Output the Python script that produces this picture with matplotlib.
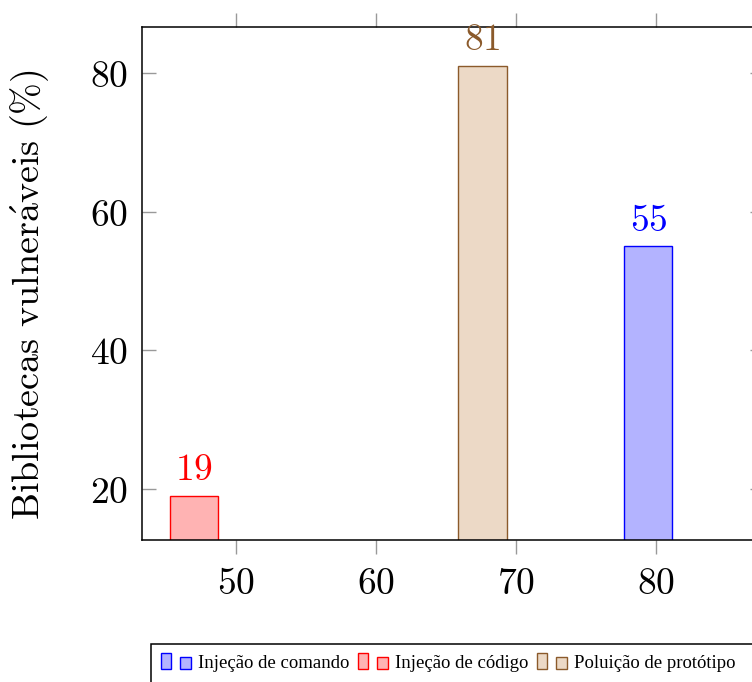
import matplotlib
matplotlib.use("Agg")
import matplotlib.pyplot as plt
from matplotlib.patches import Rectangle
from matplotlib.ticker import FuncFormatter

# Data
series = ["Injeção de comando", "Injeção de código", "Poluição de protótipo"]
bar_x = [79.45, 47.0, 67.6]
bar_values = [55, 19, 81]
edge_colors = ["#0000ff", "#ff0000", "#8b5a2b"]
fill_colors = ["#b3b3ff", "#ffb3b3", "#ecd9c6"]
x_ticks = [50, 60, 70, 80]
y_ticks = [20, 40, 60, 80]

W, H = 752, 682
plt.rcParams["mathtext.fontset"] = "cm"

fig = plt.figure(figsize=(W / 100, H / 100), dpi=100)


def fx(px):
    return px / W


def fy(py):
    return 1 - py / H


# axes box runs past the right edge of the image like in the reference
ax = fig.add_axes([fx(142), fy(540), (764 - 142) / W, (540 - 27) / H])
ax.set_xlim(43.29, 87.71)
ax.set_ylim(12.64, 86.63)

for x, v, ec, fc in zip(bar_x, bar_values, edge_colors, fill_colors):
    bars = ax.bar([x], [v], width=3.45, color=fc, edgecolor=ec, linewidth=1.0)
    ax.bar_label(bars, fmt="${:.0f}$", padding=5.5, color=ec, fontsize=27)

ax.set_xticks(x_ticks)
ax.set_yticks(y_ticks)
fmt = FuncFormatter(lambda v, p: f"${v:.0f}$")
ax.xaxis.set_major_formatter(fmt)
ax.yaxis.set_major_formatter(fmt)
ax.tick_params(axis="x", direction="out", top=True, length=10, width=1,
               color="#999999", labelsize=27, pad=9)
ax.tick_params(axis="y", direction="in", right=True, length=10, width=1,
               color="#999999", labelsize=27, pad=10)
for s in ax.spines.values():
    s.set_linewidth(1.1)

ax.set_ylabel(r"$\mathrm{Bibliotecas\ vulner\acute{a}veis\ (\%)}$", fontsize=27.5)
ax.yaxis.set_label_coords(-0.147, 0.478)

# legend box below the axes, drawn like the pgfplots one
fig.patches.append(Rectangle((fx(151), fy(690)), fx(700), (690 - 644) / H,
                             transform=fig.transFigure, fill=False,
                             edgecolor="black", linewidth=1.1))
tall_x = [161, 358, 537]
small_x = [180, 377, 556]
text_x = [198, 395, 574]
for i, name in enumerate(series):
    fig.patches.append(Rectangle((fx(tall_x[i]), fy(669)), 9.5 / W, 16 / H,
                                 transform=fig.transFigure, facecolor=fill_colors[i],
                                 edgecolor=edge_colors[i], linewidth=1.0))
    fig.patches.append(Rectangle((fx(small_x[i]), fy(669)), 11 / W, 12 / H,
                                 transform=fig.transFigure, facecolor=fill_colors[i],
                                 edgecolor=edge_colors[i], linewidth=1.0))
    fig.text(fx(text_x[i]), fy(668.5), name, family="Liberation Serif",
             fontsize=13.5, va="baseline", ha="left")

fig.savefig("out.png", dpi=100)
